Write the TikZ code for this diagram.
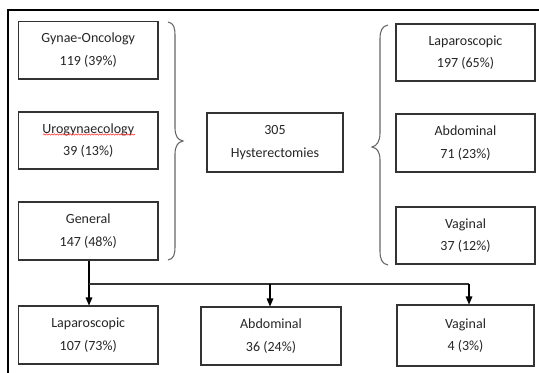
\documentclass[tikz,border=0pt]{standalone}
\usepackage{fontspec}
\setmainfont{Carlito}
\usetikzlibrary{arrows.meta,decorations.pathmorphing}
\begin{document}
\begin{tikzpicture}[x=0.75pt,y=-0.75pt,
  box/.style 2 args={draw=black!80, line width=0.8pt, inner sep=0pt,
    minimum width=#1*0.75pt, minimum height=#2*0.75pt, align=center,
    text=black!85, font=\fontsize{10.5}{17}\selectfont},
  brace/.style={draw=black!60, line width=0.8pt},
  arr/.style={draw=black, line width=0.8pt, -{Triangle[length=6pt,width=5pt]}},
  conn/.style={draw=black!80, line width=0.8pt}]
\useasboundingbox (0,0) rectangle (539,372);
\fill[white] (0,0) rectangle (539,372);
\draw[line width=1.6pt] (8,10) rectangle (600,420);
% left column
\node[box={139.5}{57.5}] (go) at (88.25,50.25) {Gynae-Oncology\\119 (39\%)};
\node[box={139.5}{57}] (uro) at (88.25,140.5) {Urogynaecology\\39 (13\%)};
\node[box={139.5}{58}] (gen) at (88.25,231) {General\\147 (48\%)};
% center
\node[box={136}{59}] (hyst) at (275,142.5) {305\\Hysterectomies};
% right column
\node[box={139}{57}] (lapR) at (465.5,52.5) {Laparoscopic\\197 (65\%)};
\node[box={139}{58}] (abdR) at (465.5,143) {Abdominal\\71 (23\%)};
\node[box={139}{57}] (vagR) at (465.5,235.5) {Vaginal\\37 (12\%)};
% bottom row
\node[box={139.5}{58}] (lapB) at (88.25,335) {Laparoscopic\\107 (73\%)};
\node[box={140}{58}] (abdB) at (271,336) {Abdominal\\36 (24\%)};
\node[box={137}{61}] (vagB) at (465.5,335.5) {Vaginal\\4 (3\%)};
% spell-check squiggle
\draw[red!80, line width=0.4pt, decorate, decoration={snake, amplitude=0.5pt, segment length=2pt}] (43,134.5) -- (135,134.5);
% braces
\draw[brace] (168,22) .. controls (174,23) and (175,28) .. (175,36)
  -- (175,128) .. controls (175,136) and (178,140) .. (183,141)
  .. controls (178,142) and (175,146) .. (175,154)
  -- (175,246) .. controls (175,254) and (174,259) .. (168,260);
\draw[brace] (388,25) .. controls (382,26) and (380,31) .. (380,39)
  -- (380,133) .. controls (380,141) and (377,146) .. (372,147)
  .. controls (377,148) and (380,152) .. (380,160)
  -- (380,251) .. controls (380,259) and (382,264) .. (388,265);
% connectors
\coordinate (j) at (89,284);
\coordinate (jr) at (469,284);
\draw[arr] (gen.south -| j) -- (lapB.north -| j);
\draw[conn] (j) -- (jr);
\draw[arr] (j -| 270,0) -- (abdB.north -| 270,0);
\draw[arr] (jr) -- (vagB.north -| jr);
\end{tikzpicture}
\end{document}
